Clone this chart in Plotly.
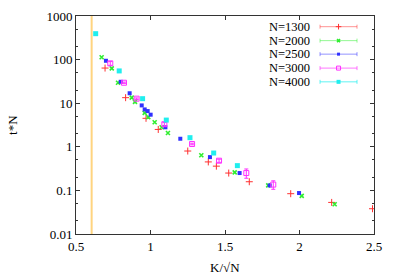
import plotly.graph_objects as go

# ---- data ----
n1300_x = [0.695, 0.833, 0.970, 1.052, 1.250, 1.388, 1.442, 1.525, 1.663, 1.941, 2.216, 2.490]
n1300_y = [64, 13.4, 4.5, 2.5, 0.80, 0.45, 0.36, 0.25, 0.158, 0.084, 0.053, 0.038]

n2000_x = [0.672, 0.740, 0.782, 0.874, 0.896, 0.961, 0.985, 1.028, 1.075, 1.117, 1.341, 1.565, 1.790, 2.015, 2.236]
n2000_y = [113, 63, 29.5, 13.4, 10.7, 6.0, 4.8, 3.65, 2.8, 2.07, 0.64, 0.26, 0.13, 0.075, 0.048]

n2500_x = [0.701, 0.800, 0.860, 0.941, 0.961, 0.981, 1.001, 1.100, 1.200, 1.399, 1.598, 1.800, 1.997]
n2500_y = [94, 31, 16.9, 8.9, 7.2, 6.6, 5.45, 2.8, 1.53, 0.58, 0.25, 0.13, 0.087]

n3000_x = [0.730, 0.822, 0.907, 1.093, 1.279, 1.460, 1.643, 1.824]
n3000_y = [82, 29.5, 12.7, 3.3, 1.16, 0.48, 0.25, 0.136]
n3000_err = [8, 1.0, 0.5, 0.3, 0.05, 0.04, 0.06, 0.03]

n4000_x = [0.632, 0.790, 0.947, 1.106, 1.265, 1.424, 1.583]
n4000_y = [393, 55, 12.7, 4.1, 1.62, 0.72, 0.37]

series_names = ["N=1300", "N=2000", "N=2500", "N=3000", "N=4000"]
vline_x = 0.605

x_ticks = [0.5, 1, 1.5, 2, 2.5]
x_ticktext = ["0.5", "1", "1.5", "2", "2.5"]
y_ticks = [0.01, 0.1, 1, 10, 100, 1000]
y_ticktext = ["0.01", "0.1", "1", "10", "100", "1000"]
y_minor = [0.02, 0.05, 0.2, 0.5, 2, 5, 20, 50, 200, 500]

# ---- styles ----
FONT = "Liberation Serif, Times New Roman, serif"
colors = ["#ff3030", "#30ee30", "#3030ff", "#ff30ff", "#20eeee"]
legend_line_colors = ["rgba(255,60,60,0.55)", "rgba(60,240,60,0.55)", "rgba(60,60,255,0.55)",
                      "rgba(255,60,255,0.7)", "rgba(30,240,240,0.7)"]
symbols = ["cross-thin", "x-thin", "square", "square-open", "square"]
sizes = [5, 4, 4, 5, 5]
widths = [1, 1.6, 0, 1, 0]

data = [
    (n1300_x, n1300_y, None),
    (n2000_x, n2000_y, None),
    (n2500_x, n2500_y, None),
    (n3000_x, n3000_y, n3000_err),
    (n4000_x, n4000_y, None),
]

fig = go.Figure()

for i, (xs, ys, err) in enumerate(data):
    marker = dict(symbol=symbols[i], size=sizes[i], color=colors[i],
                  line=dict(color=colors[i], width=widths[i]))
    kw = {}
    if err is not None:
        kw["error_y"] = dict(type="data", array=err, visible=True, color=colors[i],
                             thickness=1, width=2)
    fig.add_trace(go.Scatter(x=xs, y=ys, mode="markers", name=series_names[i],
                             marker=marker, showlegend=False, **kw))

# vertical orange line
fig.add_vline(x=vline_x, line=dict(color="#ffd47f", width=2), layer="below")

# manual legend (text on the left, sample on the right) on an overlay axis
leg_y = [0.951, 0.887, 0.825, 0.761, 0.698]
for i in range(5):
    fig.add_trace(go.Scatter(
        x=[0.881], y=[leg_y[i]], xaxis="x2", yaxis="y2", mode="markers",
        marker=dict(symbol=symbols[i], size=max(sizes[i] - 1, 3), color=colors[i],
                    line=dict(color=colors[i], width=widths[i])),
        error_x=dict(type="constant", value=0.062, color=legend_line_colors[i],
                     thickness=1, width=2),
        showlegend=False, hoverinfo="skip"))
    fig.add_annotation(x=0.791, y=leg_y[i], xref="x2", yref="y2", text=series_names[i],
                       showarrow=False, xanchor="right", yanchor="middle",
                       font=dict(family=FONT, size=12.5, color="black"))

axis_common = dict(showline=True, linecolor="#333333", linewidth=1, mirror="ticks",
                   ticks="inside", ticklen=4, tickcolor="#333333", showgrid=False,
                   zeroline=False, automargin=False,
                   tickfont=dict(family=FONT, size=13, color="black"))

fig.update_layout(
    width=399, height=279,
    margin=dict(l=76, r=25, t=16, b=45),
    paper_bgcolor="white", plot_bgcolor="white",
    showlegend=False,
    font=dict(family=FONT, size=13, color="black"),
    xaxis=dict(range=[0.5, 2.5], tickmode="array", tickvals=x_ticks, ticktext=x_ticktext,
               **axis_common),
    yaxis=dict(type="log", range=[-2, 3], tickmode="array", tickvals=y_ticks,
               ticktext=y_ticktext,
               minor=dict(tickmode="array", tickvals=y_minor, ticks="inside", ticklen=2,
                          tickcolor="#333333"),
               **axis_common),
    xaxis2=dict(range=[0, 1], overlaying="x", visible=False, fixedrange=True),
    yaxis2=dict(range=[0, 1], overlaying="y", visible=False, fixedrange=True),
)

# axis titles
fig.add_annotation(x=0.5, y=-0.152, xref="paper", yref="paper", text="K/\u221aN",
                   showarrow=False, xanchor="center", yanchor="middle",
                   font=dict(family=FONT, size=13, color="black"))
fig.add_annotation(x=-0.215, y=0.5, xref="paper", yref="paper", text="t*N",
                   showarrow=False, textangle=-90, xanchor="center", yanchor="middle",
                   font=dict(family=FONT, size=13, color="black"))

fig.write_html("out.html", config={"displayModeBar": False},
               post_script="document.body.style.margin='0px';")
